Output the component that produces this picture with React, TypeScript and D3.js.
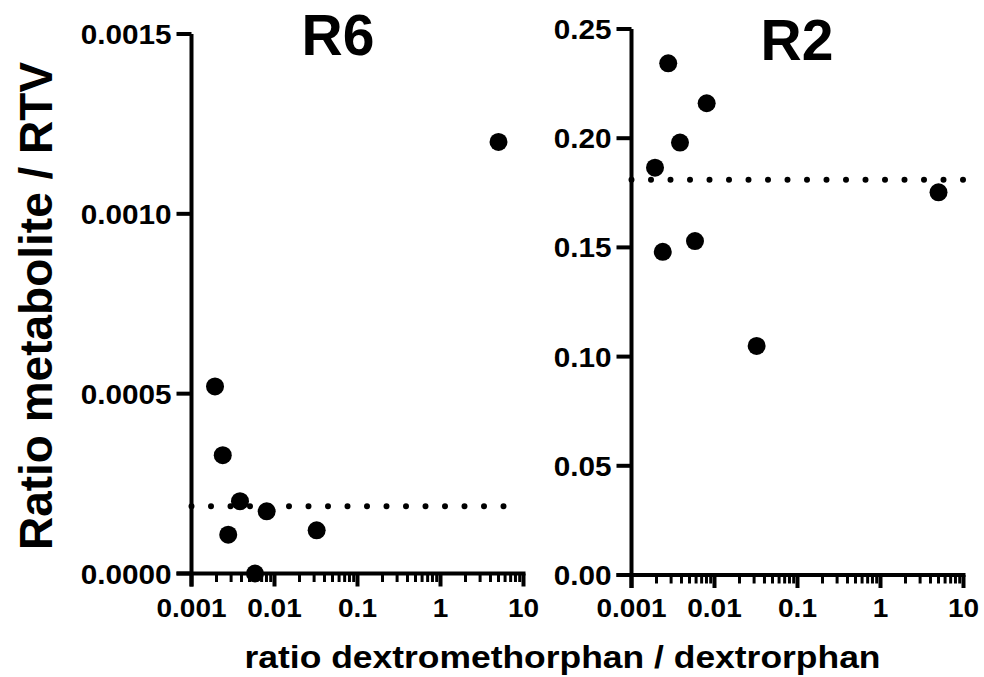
import React from "react";
import * as d3 from "d3";

// dextromethorphan / dextrorphan ratio per subject (shared by both panels)
const dmRatio = [0.00192, 0.00238, 0.00277, 0.00384, 0.00582, 0.00805, 0.0322, 5.0];
// metabolite / RTV ratios
const r6Values = [0.00052, 0.000329, 0.000108, 0.000201, 0.0, 0.000173, 0.00012, 0.0012];
const r2Values = [0.1865, 0.148, 0.2343, 0.198, 0.1529, 0.216, 0.1049, 0.1752];
// dotted reference lines: [level, x end]
const r6Mean = [0.000187, 6];
const r2Mean = [0.181, 10];

const xTicks = [0.001, 0.01, 0.1, 1, 10];
const xTickLabels = ["0.001", "0.01", "0.1", "1", "10"];
const r6Ticks = [0, 0.0005, 0.001, 0.0015];
const r2Ticks = [0, 0.05, 0.1, 0.15, 0.2, 0.25];

const FONT = "'Liberation Sans', Arial, Helvetica, sans-serif";
const ink = "#000";

const Panel = ({ title, values, mean, yTicks, yMax, yFmt, left, right, top, bottom, titleX, titleY }) => {
  const x = d3.scaleLog().domain([0.001, 10]).range([left, right]);
  const y = d3.scaleLinear().domain([0, yMax]).range([bottom, top]);

  const minor = [];
  for (let d = 0; d < 4; d++) {
    for (let k = 2; k <= 9; k++) minor.push(k * xTicks[d]);
  }

  return (
    <g>
      {/* dotted reference line */}
      <line
        x1={x(0.001)}
        x2={x(mean[1])}
        y1={y(mean[0])}
        y2={y(mean[0])}
        stroke={ink}
        strokeWidth={6}
        strokeLinecap="round"
        strokeDasharray="0 19.5"
      />
      {/* y axis */}
      <line x1={left} x2={left} y1={top} y2={bottom + 13} stroke={ink} strokeWidth={4} />
      {yTicks.map((t) => (
        <g key={t}>
          <line x1={left - 15} x2={left} y1={y(t)} y2={y(t)} stroke={ink} strokeWidth={4} />
          <text
            transform={`translate(${left - 20},${y(t) + 10}) scale(1.08,1)`}
            textAnchor="end"
            fontSize={27.5}
            fontWeight="bold"
            fontFamily={FONT}
            fill={ink}
          >
            {yFmt(t)}
          </text>
        </g>
      ))}
      {/* x axis */}
      <line x1={left - 15} x2={right + 2} y1={bottom} y2={bottom} stroke={ink} strokeWidth={4} />
      {minor.map((m) => (
        <line key={m} x1={x(m)} x2={x(m)} y1={bottom} y2={bottom + 8.5} stroke={ink} strokeWidth={3} />
      ))}
      {xTicks.map((t, i) => (
        <g key={t}>
          <line x1={x(t)} x2={x(t)} y1={bottom} y2={bottom + 13} stroke={ink} strokeWidth={4} />
          <text
            transform={`translate(${x(t)},${617}) scale(1.12,1)`}
            textAnchor="middle"
            fontSize={25}
            fontWeight="bold"
            fontFamily={FONT}
            fill={ink}
          >
            {xTickLabels[i]}
          </text>
        </g>
      ))}
      {/* points */}
      {values.map((v, i) => (
        <circle key={i} cx={x(dmRatio[i])} cy={y(v)} r={9} fill={ink} />
      ))}
      <text
        x={titleX}
        y={titleY}
        textAnchor="middle"
        fontSize={57}
        fontWeight="bold"
        fontFamily={FONT}
        fill={ink}
      >
        {title}
      </text>
    </g>
  );
};

export default function App() {
  return (
    <svg
      width={984}
      height={677}
      style={{ position: "absolute", left: 0, top: 0, background: "#fff" }}
    >
      <rect x={0} y={0} width={984} height={677} fill="#fff" />
      <Panel
        title="R6"
        values={r6Values}
        mean={r6Mean}
        yTicks={r6Ticks}
        yMax={0.0015}
        yFmt={d3.format(".4f")}
        left={191.5}
        right={523.5}
        top={34}
        bottom={573.5}
        titleX={338}
        titleY={55}
      />
      <Panel
        title="R2"
        values={r2Values}
        mean={r2Mean}
        yTicks={r2Ticks}
        yMax={0.25}
        yFmt={d3.format(".2f")}
        left={631.5}
        right={963.5}
        top={29}
        bottom={575}
        titleX={797}
        titleY={60}
      />
      <text
        transform="translate(52,306) rotate(-90)"
        textAnchor="middle"
        fontSize={46}
        fontWeight="bold"
        fontFamily={FONT}
        fill={ink}
      >
        Ratio metabolite / RTV
      </text>
      <text
        x={244.5}
        y={668}
        fontSize={32}
        fontWeight="bold"
        fontFamily={FONT}
        fill={ink}
        textLength={636}
        lengthAdjust="spacingAndGlyphs"
      >
        ratio dextromethorphan / dextrorphan
      </text>
    </svg>
  );
}
